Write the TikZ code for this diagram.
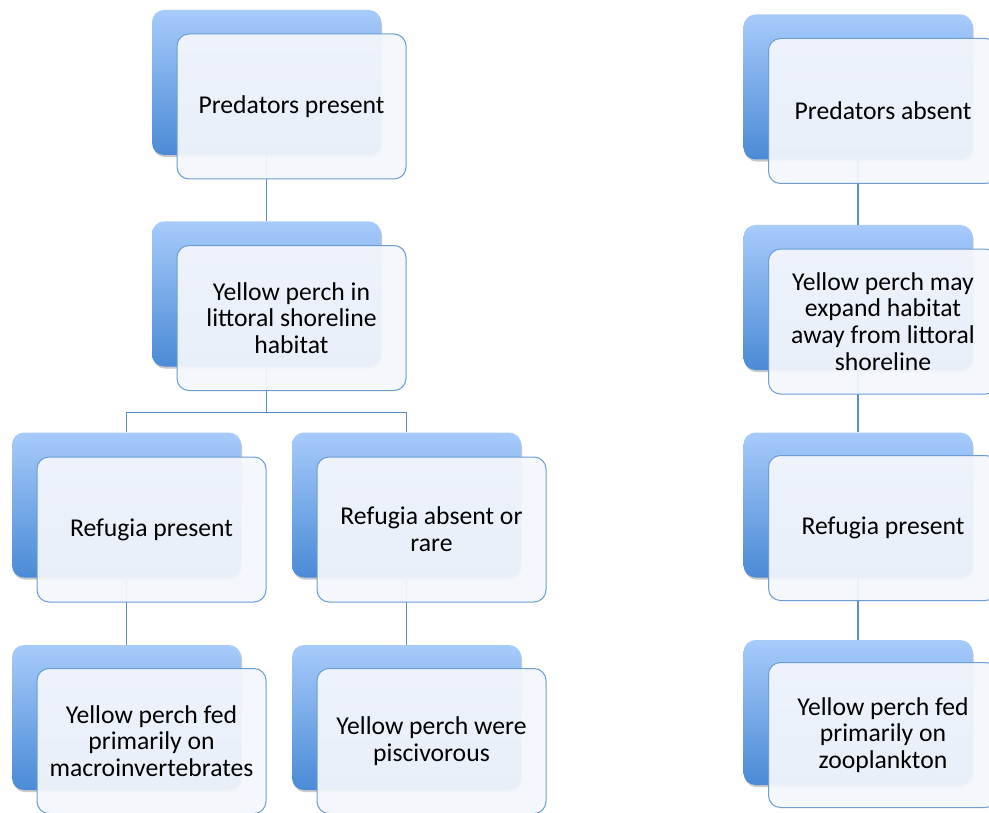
\documentclass[tikz,border=0pt]{standalone}
\usepackage{fontspec}
\setmainfont{Carlito}
\usetikzlibrary{calc,shadows}

\definecolor{backtop}{HTML}{A7CBFB}
\definecolor{backbottom}{HTML}{4A8AD6}
\definecolor{frontfill}{HTML}{F3F6FC}
\definecolor{frameblue}{HTML}{6C9DD3}
\definecolor{linkblue}{HTML}{5D8CC7}

\tikzset{
  backbox/.style={rounded corners=9pt, minimum width=171.75pt, minimum height=108.75pt,
    top color=backtop, bottom color=backbottom, draw=none,
    drop shadow={shadow xshift=0.8pt, shadow yshift=-1.6pt, opacity=0.3, fill=black!70}},
  frontbox/.style={draw=frameblue, line width=0.75pt, rounded corners=9pt,
    minimum width=171.75pt, minimum height=108.75pt, fill=frontfill, fill opacity=0.94,
    text opacity=1, align=center, font=\fontsize{19.25}{20}\selectfont},
  link/.style={draw=linkblue, line width=0.8pt}
}

\begin{document}
\begin{tikzpicture}[x=0.75pt, y=-0.75pt]
  \clip (0,0) rectangle (989,813);

  % back boxes
  \node[backbox] (presentBack) at (266.5, 82.5) {};
  \node[backbox] (littoralBack) at (266.5, 294) {};
  \node[backbox] (refugiaBack) at (126.5, 505) {};
  \node[backbox] (rareBack) at (406.5, 505) {};
  \node[backbox] (macroBack) at (126.5, 717.5) {};
  \node[backbox] (piscBack) at (406.5, 717.5) {};
  \node[backbox] (absentBack) at (858, 87) {};
  \node[backbox] (expandBack) at (858, 297.5) {};
  \node[backbox] (refugiaRBack) at (858, 505) {};
  \node[backbox] (zooBack) at (858, 712.5) {};

  % connectors
  \coordinate (fork) at ($(littoralBack.south)+(0,46)$);
  \draw[link] (presentBack.south) -- (littoralBack.north);
  \draw[link] (littoralBack.south) -- (fork);
  \draw[link] (refugiaBack.north) |- (fork) -| (rareBack.north);
  \draw[link] (refugiaBack.south) -- (macroBack.north);
  \draw[link] (rareBack.south) -- (piscBack.north);
  \draw[link] (absentBack.south) -- (expandBack.north);
  \draw[link] (expandBack.south) -- (refugiaRBack.north);
  \draw[link] (refugiaRBack.south) -- (zooBack.north);

  % front boxes with text
  \node[frontbox] (presentText) at (291.5, 106.5) {Predators present};
  \node[frontbox] (littoralText) at (291.5, 318) {Yellow perch in\\littoral shoreline\\habitat};
  \node[frontbox] (refugiaText) at (151.5, 529.5) {Refugia present};
  \node[frontbox] (rareText) at (431.5, 529.5) {Refugia absent or\\rare};
  \node[frontbox] (macroText) at (151.5, 741) {Yellow perch fed\\primarily on\\macroinvertebrates};
  \node[frontbox] (piscText) at (431.5, 741) {Yellow perch were\\piscivorous};
  \node[frontbox] (absentText) at (883, 111) {Predators absent};
  \node[frontbox] (expandText) at (883, 321.5) {Yellow perch may\\expand habitat\\away from littoral\\shoreline};
  \node[frontbox] (refugiaRText) at (883, 528) {Refugia present};
  \node[frontbox] (zooText) at (883, 735) {Yellow perch fed\\primarily on\\zooplankton};
\end{tikzpicture}
\end{document}
